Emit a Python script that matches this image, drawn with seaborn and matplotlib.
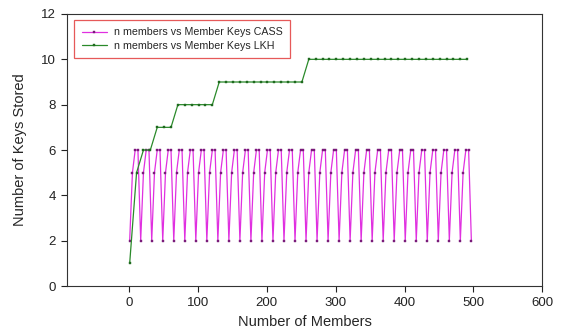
import matplotlib
matplotlib.use("Agg")
import matplotlib.pyplot as plt
import seaborn as sns
import pandas as pd

# CASS: member keys sampled every 4 members
cass_members = [
    1, 5, 9, 13, 17, 21, 25, 29, 33, 37, 41, 45, 49, 53, 57, 61,
    65, 69, 73, 77, 81, 85, 89, 93, 97, 101, 105, 109, 113, 117, 121, 125,
    129, 133, 137, 141, 145, 149, 153, 157, 161, 165, 169, 173, 177, 181, 185, 189,
    193, 197, 201, 205, 209, 213, 217, 221, 225, 229, 233, 237, 241, 245, 249, 253,
    257, 261, 265, 269, 273, 277, 281, 285, 289, 293, 297, 301, 305, 309, 313, 317,
    321, 325, 329, 333, 337, 341, 345, 349, 353, 357, 361, 365, 369, 373, 377, 381,
    385, 389, 393, 397, 401, 405, 409, 413, 417, 421, 425, 429, 433, 437, 441, 445,
    449, 453, 457, 461, 465, 469, 473, 477, 481, 485, 489, 493, 497,
]
cass_keys = [
    2, 5, 6, 6, 2, 5, 6, 6, 2, 5, 6, 6, 2, 5, 6, 6,
    2, 5, 6, 6, 2, 5, 6, 6, 2, 5, 6, 6, 2, 5, 6, 6,
    2, 5, 6, 6, 2, 5, 6, 6, 2, 5, 6, 6, 2, 5, 6, 6,
    2, 5, 6, 6, 2, 5, 6, 6, 2, 5, 6, 6, 2, 5, 6, 6,
    2, 5, 6, 6, 2, 5, 6, 6, 2, 5, 6, 6, 2, 5, 6, 6,
    2, 5, 6, 6, 2, 5, 6, 6, 2, 5, 6, 6, 2, 5, 6, 6,
    2, 5, 6, 6, 2, 5, 6, 6, 2, 5, 6, 6, 2, 5, 6, 6,
    2, 5, 6, 6, 2, 5, 6, 6, 2, 5, 6, 6, 2,
]

# LKH: member keys sampled every 10 members
lkh_members = [
    1, 11, 21, 31, 41, 51, 61, 71, 81, 91, 101, 111, 121, 131, 141, 151, 161,
    171, 181, 191, 201, 211, 221, 231, 241, 251, 261, 271, 281, 291, 301, 311,
    321, 331, 341, 351, 361, 371, 381, 391, 401, 411, 421, 431, 441, 451, 461,
    471, 481, 491,
]
lkh_keys = [
    1, 5, 6, 6, 7, 7, 7, 8, 8, 8, 8, 8, 8, 9, 9, 9, 9,
    9, 9, 9, 9, 9, 9, 9, 9, 9, 10, 10, 10, 10, 10, 10,
    10, 10, 10, 10, 10, 10, 10, 10, 10, 10, 10, 10, 10, 10, 10,
    10, 10, 10,
]

df_cass = pd.DataFrame({'members': cass_members, 'keys': cass_keys})
df_lkh = pd.DataFrame({'members': lkh_members, 'keys': lkh_keys})

sns.set_style('ticks')
plt.rcParams['font.family'] = ['Liberation Sans', 'DejaVu Sans']

fig = plt.figure(figsize=(5.61, 3.33), dpi=100)
ax = fig.add_axes([0.1194, 0.141, 0.8473, 0.817])

sns.lineplot(data=df_cass, x='members', y='keys', ax=ax, color='#e030e0',
             linewidth=0.9, marker='s', markersize=1.8, markeredgewidth=0.3,
             markerfacecolor='#7a1a7a', markeredgecolor='#7a1a7a',
             label='n members vs Member Keys CASS')
sns.lineplot(data=df_lkh, x='members', y='keys', ax=ax, color='#2a8a2a',
             linewidth=0.9, marker='s', markersize=1.8, markeredgewidth=0.3,
             markerfacecolor='#1f6a1f', markeredgecolor='#1f6a1f',
             label='n members vs Member Keys LKH')

ax.set_xlim(-90, 600)
ax.set_ylim(0, 12)
ax.set_xticks([0, 100, 200, 300, 400, 500, 600])
ax.set_yticks([0, 2, 4, 6, 8, 10, 12])
ax.tick_params(axis='both', labelsize=9.5, colors='#222222', length=4, width=0.8, pad=4)
ax.tick_params(top=False, right=False)
for side in ['top', 'right', 'left', 'bottom']:
    ax.spines[side].set_visible(True)
    ax.spines[side].set_color('#333333')
    ax.spines[side].set_linewidth(0.8)

ax.set_xlabel('Number of Members', fontsize=10.5, labelpad=4)
ax.set_ylabel('Number of Keys Stored', fontsize=10.5, labelpad=10)

leg = ax.legend(loc='upper left', bbox_to_anchor=(0.015, 0.978), fontsize=7.7,
                fancybox=False, frameon=True, borderpad=0.7, handlelength=2.4,
                handletextpad=0.6, labelspacing=0.3, borderaxespad=0.0)
leg.get_frame().set_edgecolor('#e03030')
leg.get_frame().set_linewidth(0.9)

fig.savefig('out.png', dpi=100)
